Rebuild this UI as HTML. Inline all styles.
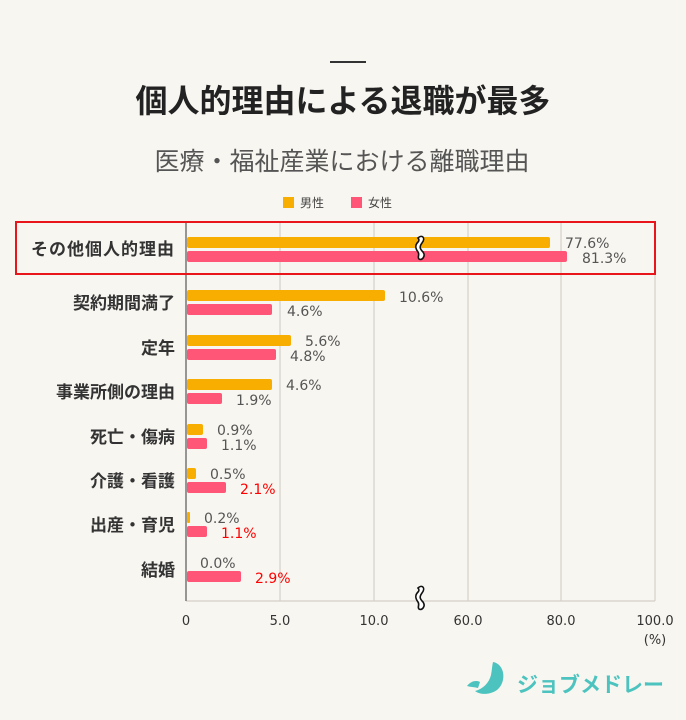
<!DOCTYPE html>
<html><head><meta charset="utf-8"><style>
body{margin:0;background:#f8f6f0;}
svg{display:block;font-family:"Liberation Sans","Noto Sans CJK JP",sans-serif;}
</style></head><body>
<svg width="686" height="720" viewBox="0 0 686 720">
<rect width="686" height="720" fill="#f8f6f0"/>
<rect x="330" y="61" width="36" height="2" fill="#333"/>
<text x="343" y="112" text-anchor="middle" font-size="32" font-weight="bold" fill="#222">個人的理由による退職が最多</text>
<text x="342" y="170" text-anchor="middle" font-size="25" fill="#555">医療・福祉産業における離職理由</text>
<rect x="283" y="197" width="11" height="11" fill="#f8ae00"/>
<text x="300" y="207" font-size="12" fill="#444">男性</text>
<rect x="351" y="197" width="11" height="11" fill="#ff5577"/>
<text x="368" y="207" font-size="12" fill="#444">女性</text>
<g stroke="#d4d0c8" stroke-width="1.2">
<line x1="280" y1="222" x2="280" y2="601"/>
<line x1="374" y1="222" x2="374" y2="601"/>
<line x1="468" y1="222" x2="468" y2="601"/>
<line x1="561" y1="222" x2="561" y2="601"/>
<line x1="655" y1="222" x2="655" y2="601"/>
<line x1="186" y1="601" x2="655" y2="601"/>
</g>
<line x1="186" y1="222" x2="186" y2="601" stroke="#777" stroke-width="1.5"/>
<rect x="16" y="222" width="639" height="52" fill="none" stroke="#e8161b" stroke-width="2"/>
<g font-size="17" fill="#333" font-weight="bold" text-anchor="end">
<text x="175" y="255" letter-spacing="1">その他個人的理由</text>
<text x="175" y="309">契約期間満了</text>
<text x="175" y="354">定年</text>
<text x="175" y="398">事業所側の理由</text>
<text x="175" y="443">死亡・傷病</text>
<text x="175" y="487">介護・看護</text>
<text x="175" y="531">出産・育児</text>
<text x="175" y="576">結婚</text>
</g>
<g>
<rect x="187" y="237" width="363" height="11" rx="2" fill="#f8ae00"/>
<rect x="187" y="251" width="380" height="11" rx="2" fill="#ff5577"/>
<rect x="187" y="290" width="198" height="11" rx="2" fill="#f8ae00"/>
<rect x="187" y="304" width="85" height="11" rx="2" fill="#ff5577"/>
<rect x="187" y="335" width="104" height="11" rx="2" fill="#f8ae00"/>
<rect x="187" y="349" width="89" height="11" rx="2" fill="#ff5577"/>
<rect x="187" y="379" width="85" height="11" rx="2" fill="#f8ae00"/>
<rect x="187" y="393" width="35" height="11" rx="2" fill="#ff5577"/>
<rect x="187" y="424" width="16" height="11" rx="2" fill="#f8ae00"/>
<rect x="187" y="438" width="20" height="11" rx="2" fill="#ff5577"/>
<rect x="187" y="468" width="9" height="11" rx="2" fill="#f8ae00"/>
<rect x="187" y="482" width="39" height="11" rx="2" fill="#ff5577"/>
<rect x="187" y="512" width="3" height="11" rx="1" fill="#f8ae00"/>
<rect x="187" y="526" width="20" height="11" rx="2" fill="#ff5577"/>
<rect x="187" y="571" width="54" height="11" rx="2" fill="#ff5577"/>
</g>
<g font-size="14" fill="#555" font-family="'DejaVu Sans',sans-serif">
<text x="565" y="248">77.6%</text>
<text x="582" y="263">81.3%</text>
<text x="399" y="302">10.6%</text>
<text x="287" y="316">4.6%</text>
<text x="305" y="346">5.6%</text>
<text x="290" y="361">4.8%</text>
<text x="286" y="390">4.6%</text>
<text x="236" y="405">1.9%</text>
<text x="217" y="435">0.9%</text>
<text x="221" y="450">1.1%</text>
<text x="210" y="479">0.5%</text>
<text x="240" y="494" fill="#f00">2.1%</text>
<text x="204" y="523">0.2%</text>
<text x="221" y="538" fill="#f00">1.1%</text>
<text x="200" y="568">0.0%</text>
<text x="255" y="583" fill="#f00">2.9%</text>
</g>
<g font-size="13" fill="#333" text-anchor="middle" font-family="'DejaVu Sans',sans-serif">
<text x="186" y="625">0</text>
<text x="280" y="625">5.0</text>
<text x="374" y="625">10.0</text>
<text x="468" y="625">60.0</text>
<text x="561" y="625">80.0</text>
<text x="655" y="625">100.0</text>
<text x="655" y="644">(%)</text>
</g>
<g fill="#fff" stroke="#111" stroke-width="1.6">
<path d="M418,238 c4,-4 8,0 4,5 c-3,4 -2,6 1,9 c3,4 -1,9 -4,7 c-2,-2 1,-4 -1,-7 c-3,-4 -3,-7 0,-10 c2,-2 0,-4 0,-4z"/>
<path d="M418,588 c4,-4 8,0 4,5 c-3,4 -2,6 1,9 c3,4 -1,9 -4,7 c-2,-2 1,-4 -1,-7 c-3,-4 -3,-7 0,-10 c2,-2 0,-4 0,-4z"/>
</g>
<path d="M493,662 c12,2 14,20 4,28 c-7,5 -17,5 -22,1 c8,-2 14,-8 16,-16 c1,-5 1,-9 2,-13z" fill="#4dc3bf"/>
<path d="M467,686 c4,-5 9,-6 13,-4 l-2,6 c-4,-1 -8,-1 -11,-2z" fill="#4dc3bf"/>
<text x="517" y="692" font-size="21" font-weight="bold" fill="#4dc3bf">ジョブメドレー</text>
</svg>
</body></html>
